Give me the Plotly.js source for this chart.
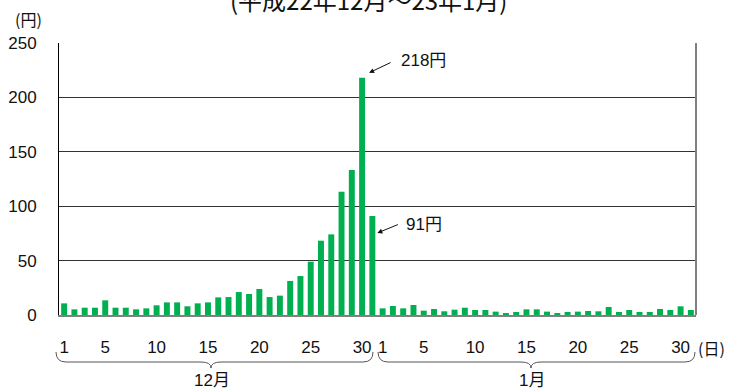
<!DOCTYPE html>
<html>
<head>
<meta charset="utf-8">
<script src="https://cdn.plot.ly/plotly-3.0.1.min.js"></script>
<style>html,body{margin:0;padding:0;background:#fff;}#chart{width:738px;height:390px;}</style>
</head>
<body>
<div id="chart"></div>
<script>
// ---- data (円, daily) ----
const decValues = [10.7,5.2,6.7,6.7,13.5,6.7,6.7,5.2,6.1,8.9,11.6,11.6,8.0,10.7,11.6,16.2,16.5,21.1,19.3,23.9,16.5,17.8,31.3,35.8,49.0,68.3,74.1,113.3,133.3,218,91];
const janValues = [6.1,8.3,6.1,9.2,4.0,5.5,3.4,4.9,6.7,4.6,4.6,3.1,1.8,2.8,5.2,5.2,3.1,1.8,2.8,3.1,3.7,3.4,7.4,2.8,4.6,2.8,2.8,5.5,4.6,8.0,4.6];
const tickDays = [1,5,10,15,20,25,30];
const monthLabels = ['12月','1月'];
const titleText = '(平成22年12月～23年1月)';
const yUnit = '(円)';
const xUnit = '(日)';
const callout1 = '218円';
const callout2 = '91円';

const values = decValues.concat(janValues);
const xs = values.map((v,i)=>i);
const tickvals = [], ticktext = [];
tickDays.forEach(d=>{ tickvals.push(d-1); ticktext.push(String(d)); });
tickDays.forEach(d=>{ tickvals.push(decValues.length + d-1); ticktext.push(String(d)); });

const FONT = 'Liberation Sans, "Noto Sans CJK JP", sans-serif';
const W=738,H=390,L=59,R=42,T=43,B=75;
const pw=W-L-R, ph=H-T-B;
const PX = px => (px-L)/pw;
const PY = py => (H-B-py)/ph;

function brace(x0,x1,tip,yTop,yLine,yTip){
  const r=10;
  return `M ${PX(x0)},${PY(yTop)} Q ${PX(x0)},${PY(yLine)} ${PX(x0+r)},${PY(yLine)} `+
         `L ${PX(tip-r)},${PY(yLine)} Q ${PX(tip)},${PY(yLine)} ${PX(tip)},${PY(yTip)} `+
         `Q ${PX(tip)},${PY(yLine)} ${PX(tip+r)},${PY(yLine)} `+
         `L ${PX(x1-r)},${PY(yLine)} Q ${PX(x1)},${PY(yLine)} ${PX(x1)},${PY(yTop)}`;
}

const maxIdx = decValues.length-2; // Dec 30
const lastDec = decValues.length-1; // Dec 31

const trace = {
  type:'bar', x: xs, y: values,
  marker:{color:'#00b050', line:{width:0}},
  hoverinfo:'skip'
};

const layout = {
  width:W, height:H,
  margin:{l:L,r:R,t:T,b:B},
  paper_bgcolor:'#fff', plot_bgcolor:'#fff',
  showlegend:false,
  bargap:0.42,
  font:{family:FONT, color:'#111', size:17},
  xaxis:{range:[-0.5, values.length-0.5], tickvals, ticktext, showgrid:false, zeroline:false,
         showline:true, linecolor:'#808080', linewidth:2, ticks:'outside', ticklen:16,
         tickcolor:'rgba(0,0,0,0)', tickfont:{size:17, family:FONT, color:'#111'}, fixedrange:true},
  yaxis:{range:[0,250], dtick:50, showgrid:true, gridcolor:'#333', gridwidth:1, zeroline:false,
         showline:true, linecolor:'#000', linewidth:1, ticks:'outside', ticklen:18,
         tickcolor:'rgba(0,0,0,0)', tickfont:{size:17, family:FONT, color:'#111'}, fixedrange:true},
  shapes:[
    {type:'line', xref:'paper', yref:'paper', x0:1, x1:1, y0:0, y1:1, line:{color:'#808080', width:2}},
    {type:'path', xref:'paper', yref:'paper', path:brace(56,373,211,352,362,368), line:{color:'#555', width:1}},
    {type:'path', xref:'paper', yref:'paper', path:brace(378,695,531,352,362,368), line:{color:'#555', width:1}}
  ],
  annotations:[
    {xref:'paper', yref:'paper', x:PX(368), y:PY(0), text:titleText, showarrow:false, xanchor:'center', yanchor:'middle',
     font:{size:24, family:'"Noto Sans CJK JP", sans-serif', color:'#111'}},
    {xref:'paper', yref:'paper', x:PX(28), y:PY(19.5), text:yUnit, showarrow:false, xanchor:'center', yanchor:'middle',
     font:{size:16, family:'"Noto Sans CJK JP", sans-serif', color:'#111'}},
    {xref:'paper', yref:'paper', x:PX(711), y:PY(347.5), text:xUnit, showarrow:false, xanchor:'center', yanchor:'middle',
     font:{size:16, family:'"Noto Sans CJK JP", sans-serif', color:'#111'}},
    {xref:'paper', yref:'paper', x:PX(212), y:PY(380.5), text:monthLabels[0], showarrow:false, xanchor:'center', yanchor:'middle',
     font:{size:17, family:FONT, color:'#111'}},
    {xref:'paper', yref:'paper', x:PX(532), y:PY(380.5), text:monthLabels[1], showarrow:false, xanchor:'center', yanchor:'middle',
     font:{size:17, family:FONT, color:'#111'}},
    {x:maxIdx, y:values[maxIdx], xref:'x', yref:'y', text:callout1, showarrow:false, xanchor:'left', yanchor:'middle',
     xshift:37, yshift:17, font:{size:17, family:FONT, color:'#111'}},
    {x:lastDec, y:values[lastDec], xref:'x', yref:'y', text:callout2, showarrow:false, xanchor:'left', yanchor:'middle',
     xshift:32, yshift:-9, font:{size:17, family:FONT, color:'#111'}},
    {x:maxIdx, y:values[maxIdx], xref:'x', yref:'y', text:'', showarrow:true, ax:23, ay:-11, xshift:7, yshift:5,
     arrowhead:2, arrowsize:1, arrowwidth:1, arrowcolor:'#111', standoff:0, startstandoff:0},
    {x:lastDec, y:values[lastDec], xref:'x', yref:'y', text:'', showarrow:true, ax:22, ay:-9, xshift:5, yshift:-17,
     arrowhead:2, arrowsize:1, arrowwidth:1, arrowcolor:'#111', standoff:0, startstandoff:0}
  ]
};

Plotly.newPlot('chart',[trace],layout,{staticPlot:true, displayModeBar:false});
</script>
</body>
</html>
